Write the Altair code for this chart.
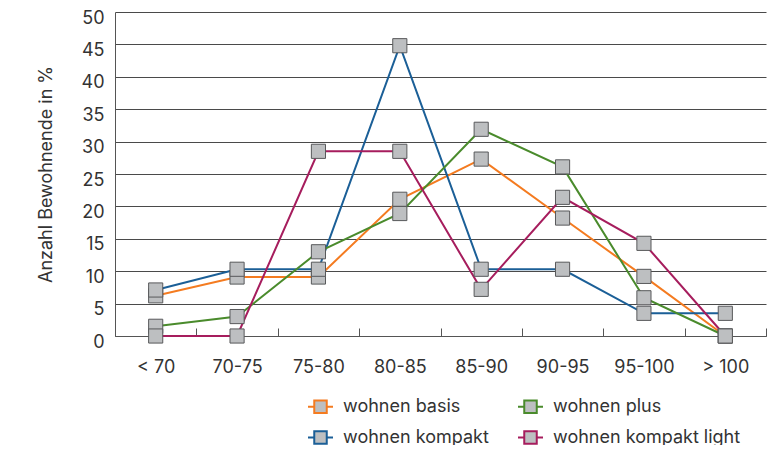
import altair as alt
import pandas as pd

categories = ["< 70", "70-75", "75-80", "80-85", "85-90", "90-95", "95-100", "> 100"]
series_names = ["wohnen basis", "wohnen kompakt", "wohnen plus", "wohnen kompakt light"]
basis = [6.2, 9.1, 9.1, 21.1, 27.3, 18.2, 9.2, 0]
kompakt = [7.1, 10.3, 10.3, 44.8, 10.3, 10.3, 3.5, 3.5]
plus = [1.5, 3.0, 13.0, 18.9, 31.9, 26.1, 5.9, 0]
kompakt_light = [0, 0, 28.5, 28.5, 7.2, 21.4, 14.3, 0]
colors = ["#f47b20", "#1b5f97", "#4a8b2c", "#a61d5d"]

rows = []
for name, vals in zip(series_names, [basis, kompakt, plus, kompakt_light]):
    for i, (c, v) in enumerate(zip(categories, vals)):
        rows.append({"cat": c, "idx": i, "value": v, "series": name})
df = pd.DataFrame(rows)

FONT = "Inter"
FS = 18

x = alt.X(
    "cat:N",
    sort=categories,
    scale=alt.Scale(type="band", paddingInner=0, paddingOuter=0),
    axis=alt.Axis(
        title=None,
        tickBand="extent",
        tickSize=alt.ExprRef("-8"),
        tickColor="#555555",
        domainColor="#555555",
        labelPadding=30,
        labelFontSize=FS,
        labelColor="#333333",
        labelFont=FONT,
        labelAngle=0,
        grid=False,
    ),
)
y = alt.Y(
    "value:Q",
    scale=alt.Scale(domain=[0, 50], nice=False),
    axis=alt.Axis(
        title="Anzahl Bewohnende in %",
        titleFont=FONT,
        titleFontSize=FS,
        titleFontWeight="normal",
        titleColor="#333333",
        titlePadding=26,
        values=list(range(0, 51, 5)),
        ticks=False,
        labelPadding=11,
        labelOffset=6,
        labelFontSize=FS,
        labelColor="#333333",
        labelFont=FONT,
        domainColor="#555555",
        gridColor="#4a4a4a",
        gridWidth=1,
    ),
)

color = alt.Color(
    "series:N",
    sort=series_names,
    scale=alt.Scale(domain=series_names, range=colors),
    legend=alt.Legend(
        title=None,
        orient="none",
        legendX=192,
        legendY=381,
        padding=0,
        columns=2,
        columnPadding=25,
        rowPadding=7,
        symbolType="M-1,0H-0.5M0.5,0H1M-0.5,-0.5H0.5V0.5H-0.5Z",
        symbolSize=625,
        symbolStrokeWidth=2,
        symbolFillColor="#bdbfc1",
        symbolOffset=0,
        labelOffset=9,
        labelFont=FONT,
        labelFontSize=FS,
        labelColor="#333333",
        labelLimit=300,
    ),
)

lines = alt.Chart(df).mark_line(strokeWidth=2).encode(x=x, y=y, color=color, order=alt.Order("idx:Q"))
points = alt.Chart(df).mark_square(size=200, color="#bdbfc1", opacity=1, stroke="#58595b", strokeWidth=1).encode(
    x=x, y=y, detail="series:N"
)

chart = (
    alt.layer(lines, points)
    .properties(width=651, height=324, autosize=alt.AutoSizeParams(type="none"), padding={"left": 107, "top": 4, "right": 9, "bottom": 109})
    .configure_view(stroke=None)
    .configure_axis(domainWidth=1)
)

chart.save("out.html", embed_options={"renderer": "svg", "actions": False})
